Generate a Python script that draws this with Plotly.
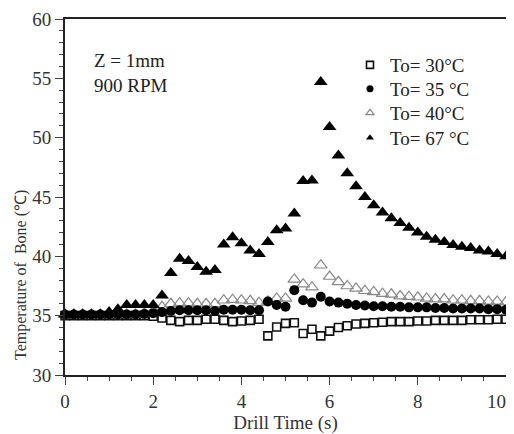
import plotly.graph_objects as go

time_s = [0.0, 0.2, 0.4, 0.6, 0.8, 1.0, 1.2, 1.4, 1.6, 1.8,
          2.0, 2.2, 2.4, 2.6, 2.8, 3.0, 3.2, 3.4, 3.6, 3.8,
          4.0, 4.2, 4.4, 4.6, 4.8, 5.0, 5.2, 5.4, 5.6, 5.8,
          6.0, 6.2, 6.4, 6.6, 6.8, 7.0, 7.2, 7.4, 7.6, 7.8,
          8.0, 8.2, 8.4, 8.6, 8.8, 9.0, 9.2, 9.4, 9.6, 9.8, 10.0]

t30 = [35.0, 35.0, 35.0, 35.0, 35.0, 35.0, 35.0, 35.0, 35.0, 35.0,
       34.95, 34.8, 34.6, 34.5, 34.6, 34.6, 34.7, 34.7, 34.6, 34.5,
       34.55, 34.6, 34.7, 33.3, 34.05, 34.35, 34.4, 33.5, 33.85, 33.3,
       33.7, 34.0, 34.15, 34.3, 34.35, 34.4, 34.45, 34.5, 34.5, 34.5,
       34.55, 34.55, 34.6, 34.6, 34.6, 34.6, 34.65, 34.65, 34.65, 34.7, 34.7]

t35 = [35.1, 35.1, 35.1, 35.1, 35.1, 35.1, 35.1, 35.1, 35.1, 35.15,
       35.2, 35.3, 35.4, 35.45, 35.45, 35.45, 35.45, 35.4, 35.5, 35.5,
       35.5, 35.45, 35.45, 36.2, 35.9, 35.75, 37.15, 36.3, 36.1, 36.6,
       36.2, 36.1, 36.0, 35.9, 35.85, 35.8, 35.8, 35.75, 35.75, 35.7,
       35.7, 35.7, 35.65, 35.65, 35.6, 35.6, 35.6, 35.6, 35.55, 35.55, 35.5]

t40 = [35.1, 35.1, 35.1, 35.1, 35.1, 35.1, 35.1, 35.1, 35.1, 35.2,
       35.4, 35.75, 36.0, 36.05, 36.05, 36.0, 36.0, 36.0, 36.3, 36.35,
       36.3, 36.25, 36.1, 36.2, 36.45, 36.45, 38.05, 37.65, 37.4, 39.25,
       38.3, 37.85, 37.5, 37.3, 37.1, 37.0, 36.85, 36.8, 36.65, 36.6,
       36.55, 36.45, 36.4, 36.4, 36.3, 36.3, 36.25, 36.25, 36.2, 36.2, 36.15]

t67 = [35.1, 35.1, 35.1, 35.1, 35.1, 35.3, 35.55, 35.9, 35.9, 35.9,
       35.9, 36.7, 38.6, 39.8, 39.6, 39.1, 38.7, 38.85, 41.0, 41.6,
       41.1, 40.5, 40.2, 41.2, 42.2, 42.35, 43.6, 46.35, 46.4, 54.7,
       50.9, 48.5, 47.0, 45.9, 45.0, 44.3, 43.7, 43.2, 42.8, 42.4,
       42.0, 41.65, 41.4, 41.2, 40.95, 40.8, 40.7, 40.5, 40.4, 40.2, 40.0]

legend_labels = ["To= 30°C", "To= 35 °C", "To= 40°C", "To= 67 °C"]
x_ticks = [0, 2, 4, 6, 8, 10]
# the last label is padded so it stays inside the window, as in the reference
x_tick_text = ["0", "2", "4", "6", "8", "10&nbsp;&nbsp;&nbsp;&nbsp;"]
y_ticks = [30, 35, 40, 45, 50, 55, 60]

FONT = "Liberation Serif, Times New Roman, serif"

# The page body has an 8px margin, so the figure is drawn 8px in from the window corner.
OFF = 8
W, H = 514 - OFF, 434 - OFF
# plot area in window pixels (as in the reference): x 65..506, y 19..375
PL, PR, PT, PB = 65 - OFF, 506 - OFF, 19 - OFF, 375 - OFF
L, R, T, B = PL, W - PR, PT, H - PB
PW, PH = PR - PL, PB - PT


def px_x(p):
    return (p - OFF - PL) / PW


def px_y(p):
    return (PB - (p - OFF)) / PH


styles = {
    "t30": dict(symbol="square-open", size=8, color="#111", line=dict(width=1.6, color="#111")),
    "t35": dict(symbol="circle", size=10, color="#000", line=dict(width=0)),
    "t40": dict(symbol="triangle-up-open", size=11, color="#888", line=dict(width=1.2, color="#888")),
    "t67": dict(symbol="triangle-up", size=12, color="#000", line=dict(width=0)),
}

fig = go.Figure()
series = {"t30": t30, "t35": t35, "t40": t40, "t67": t67}
for key in ["t30", "t40", "t35", "t67"]:
    fig.add_trace(go.Scatter(x=time_s, y=series[key], mode="markers",
                             marker=styles[key], showlegend=False, cliponaxis=False,
                             hoverinfo="skip"))

# one legend per entry so the spacing can follow the reference
legend_names = ["legend", "legend2", "legend3", "legend4"]
legend_rows = [65, 89, 113, 138]
for key, lab, lg in zip(["t30", "t35", "t40", "t67"], legend_labels, legend_names):
    st = dict(styles[key])
    st["size"] = 7
    fig.add_trace(go.Scatter(x=[None], y=[None], mode="markers", marker=st, name=lab,
                             showlegend=True, legend=lg))

axis_common = dict(showline=True, linecolor="#222", linewidth=2, mirror=True,
                   showgrid=False, zeroline=False, ticks="outside", automargin=False,
                   ticklabeloverflow="allow",
                   tickcolor="#444", tickwidth=1, ticklen=8,
                   tickfont=dict(family=FONT, size=19, color="#333"))

fig.update_xaxes(range=[0, 10], tickvals=x_ticks, ticktext=x_tick_text,
                 minor=dict(dtick=0.5, ticks="outside", ticklen=4, tickcolor="#444"),
                 title=dict(text="Drill Time (s)", font=dict(family=FONT, size=19, color="#333"),
                            standoff=4),
                 **axis_common)
fig.update_yaxes(range=[30, 60], tickvals=y_ticks,
                 minor=dict(dtick=1, ticks="outside", ticklen=4, tickcolor="#444"),
                 **axis_common)

fig.add_annotation(text="Temperature of  Bone (℃)", textangle=-90,
                   xref="paper", yref="paper", x=px_x(21), y=px_y(275),
                   xanchor="center", yanchor="middle", showarrow=False,
                   font=dict(family=FONT, size=16, color="#333"))
fig.add_annotation(text="Z = 1mm", xref="paper", yref="paper",
                   x=px_x(92), y=px_y(60), xanchor="left", yanchor="middle",
                   showarrow=False, font=dict(family=FONT, size=19, color="#222"))
fig.add_annotation(text="900 RPM", xref="paper", yref="paper",
                   x=px_x(92), y=px_y(85), xanchor="left", yanchor="middle",
                   showarrow=False, font=dict(family=FONT, size=19, color="#222"))

legend_style = dict(xanchor="left", yanchor="middle", bgcolor="rgba(0,0,0,0)",
                    borderwidth=0, font=dict(family=FONT, size=19, color="#222"))
layout_legends = {}
for lg, row in zip(legend_names, legend_rows):
    layout_legends[lg] = dict(x=px_x(350), y=px_y(row), **legend_style)

fig.update_layout(
    width=W, height=H,
    margin=dict(l=L, r=R, t=T, b=B),
    paper_bgcolor="white", plot_bgcolor="white",
    **layout_legends,
)

fig.write_html("out.html")
